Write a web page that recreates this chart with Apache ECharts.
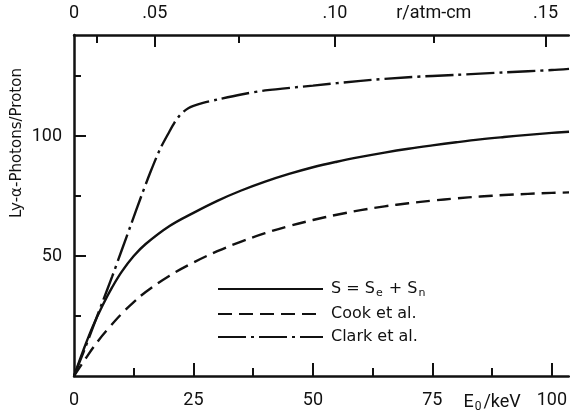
<!DOCTYPE html>
<html>
<head>
<meta charset="utf-8">
<script src="https://cdn.jsdelivr.net/npm/echarts@6/dist/echarts.min.js"></script>
<style>
html,body{margin:0;padding:0;background:#fff;}
#c{width:570px;height:415px;}
</style>
</head>
<body>
<div id="c"></div>
<script>
// ---- data ----
var xMin = 0, xMax = 103.56;
var yMin = 0, yMax = 142.1;

var solidE = [0,2,4,6,8,10,12.5,15,20,25,30,35,40,45,50,55,60,65,70,75,80,85,90,95,100,103.6];
var solidY = [0,11,21,29.5,37,43.5,50,55,62.5,68,73,77.3,81,84.2,87,89.3,91.3,93.1,94.7,96.1,97.4,98.6,99.6,100.5,101.3,101.8];

var cookE = [0,2.5,5,7.5,10,12.5,15,20,25,30,35,40,45,50,55,60,65,70,75,80,85,90,95,100,103.6];
var cookY = [0,7.5,14.5,20.5,26,30.8,35,41.8,47.3,52,56,59.5,62.5,65,67.2,69.1,70.7,72,73.1,74,74.8,75.4,75.9,76.3,76.5];

var clarkE = [0,2,4,6,8,10,12,14,16,18,20,21,22,23,24,25,27,30,35,40,50,60,70,80,90,100,103.6];
var clarkY = [0,10,20.5,31,41.5,52.5,63.5,74.5,85,94.5,102,105.5,108.3,110.3,111.7,112.6,113.8,115.2,117.3,119,121,123,124.5,125.5,126.5,127.5,128];

var seriesNames = ['S = Se + Sn', 'Cook et al.', 'Clark et al.'];

// bottom axis (energy, keV)
var bottomMajorTicks = [25, 50, 75, 100];
var bottomMinorTicks = [12.5, 37.5, 62.5, 87.5];
var bottomLabelValues = [0, 25, 50, 75, 87.5, 100];
var bottomLabelTexts = ['0', '25', '50', '75', '{a|E}{s|0}{a|/keV}', '100'];

// top axis (range r/atm-cm, placed at the equivalent energy)
var topMajorTicks = [16.9, 54.6, 98.7];
var topMinorTicks = [4.8, 34.5, 75.3];
var topLabelValues = [0, 16.9, 54.6, 75.3, 98.7];
var topLabelTexts = ['0', '.05', '.10', 'r/atm-cm', '.15'];

// left axis
var leftMajorTicks = [50, 100];
var leftMinorTicks = [25, 75, 125];
var leftLabelValues = [50, 100];

function pairs(xs, ys){ return xs.map(function(x,i){ return [x, ys[i]]; }); }
function lookup(vals, texts, v){
  for (var i=0;i<vals.length;i++){ if (Math.abs(vals[i]-v) < 1e-6) return texts[i]; }
  return '';
}

var INK = '#111';
var FONT = 'Roboto';
var FONT2 = 'DejaVu Sans';

var chart = echarts.init(document.getElementById('c'), null, {renderer:'canvas'});

var baseX = { type:'value', min:xMin, max:xMax, splitLine:{show:false} };
function axisLine(show){ return {show:show, onZero:false, lineStyle:{color:INK, width:2.5}}; }

var option = {
  backgroundColor:'#fff',
  animation:false,
  grid:{left:74, top:35, right:0, bottom:39, containLabel:false},
  legend:{
    orient:'vertical', left:212, top:276,
    itemWidth:105, itemHeight:20, itemGap:7,
    data:seriesNames,
    itemStyle:{opacity:0},
    formatter:function(n){
      if (n === seriesNames[0]) return '{t|S = S}{s|e}{t| + S}{s|n}';
      return '{t|' + n + '}';
    },
    textStyle:{
      color:INK, fontFamily:FONT2, fontSize:16, padding:[0,0,0,3],
      rich:{
        t:{fontFamily:FONT2, fontSize:16, color:INK, lineHeight:20},
        s:{fontFamily:FONT2, fontSize:11, color:INK, lineHeight:20, verticalAlign:'bottom', padding:[6,1,0,1]}
      }
    }
  },
  xAxis:[
    Object.assign({}, baseX, {
      position:'bottom',
      axisLine:axisLine(true),
      axisTick:{show:true, inside:true, length:13, lineStyle:{color:INK, width:2}, customValues:bottomMajorTicks},
      axisLabel:{
        customValues:bottomLabelValues, margin:15, color:INK, fontFamily:FONT, fontSize:18,
        formatter:function(v){ return lookup(bottomLabelValues, bottomLabelTexts, v); },
        rich:{
          a:{fontFamily:FONT, fontSize:18, color:INK},
          s:{fontFamily:FONT, fontSize:12, color:INK, verticalAlign:'bottom', padding:[10,2,0,1]}
        }
      }
    }),
    Object.assign({}, baseX, {
      position:'bottom',
      axisLine:axisLine(false),
      axisTick:{show:true, inside:true, length:8, lineStyle:{color:INK, width:2}, customValues:bottomMinorTicks},
      axisLabel:{show:false}
    }),
    Object.assign({}, baseX, {
      position:'top',
      axisLine:axisLine(true),
      axisTick:{show:true, inside:true, length:12, lineStyle:{color:INK, width:2}, customValues:topMajorTicks},
      axisLabel:{
        customValues:topLabelValues, margin:13, color:INK, fontFamily:FONT, fontSize:18,
        formatter:function(v){ return lookup(topLabelValues, topLabelTexts, v); }
      }
    }),
    Object.assign({}, baseX, {
      position:'top',
      axisLine:axisLine(false),
      axisTick:{show:true, inside:true, length:8, lineStyle:{color:INK, width:2}, customValues:topMinorTicks},
      axisLabel:{show:false}
    })
  ],
  yAxis:[
    {
      type:'value', min:yMin, max:yMax, position:'left', splitLine:{show:false},
      axisLine:axisLine(true),
      axisTick:{show:true, inside:true, length:12, lineStyle:{color:INK, width:2}, customValues:leftMajorTicks},
      axisLabel:{customValues:leftLabelValues, margin:12, color:INK, fontFamily:FONT, fontSize:18}
    },
    {
      type:'value', min:yMin, max:yMax, position:'left', splitLine:{show:false},
      axisLine:axisLine(false),
      axisTick:{show:true, inside:true, length:7, lineStyle:{color:INK, width:2}, customValues:leftMinorTicks},
      axisLabel:{show:false}
    }
  ],
  graphic:[{
    type:'text', x:17, y:143, rotation:Math.PI/2,
    style:{text:'Ly-\u03b1-Photons/Proton', fill:INK, font:'15px "DejaVu Sans"', textAlign:'center', textVerticalAlign:'middle'}
  }],
  series:[
    {name:seriesNames[0], type:'line', xAxisIndex:0, yAxisIndex:0, data:pairs(solidE, solidY),
     smooth:0.4, symbol:'none', lineStyle:{color:INK, width:2.4, type:'solid'}, itemStyle:{color:INK}},
    {name:seriesNames[1], type:'line', xAxisIndex:0, yAxisIndex:0, data:pairs(cookE, cookY),
     smooth:0.4, symbol:'none', lineStyle:{color:INK, width:2.4, type:[14,7]}, itemStyle:{color:INK}},
    {name:seriesNames[2], type:'line', xAxisIndex:0, yAxisIndex:0, data:pairs(clarkE, clarkY),
     smooth:0.3, symbol:'none', lineStyle:{color:INK, width:2.4, type:[28,5,3,5]}, itemStyle:{color:INK}}
  ]
};
chart.setOption(option);
</script>
</body>
</html>
